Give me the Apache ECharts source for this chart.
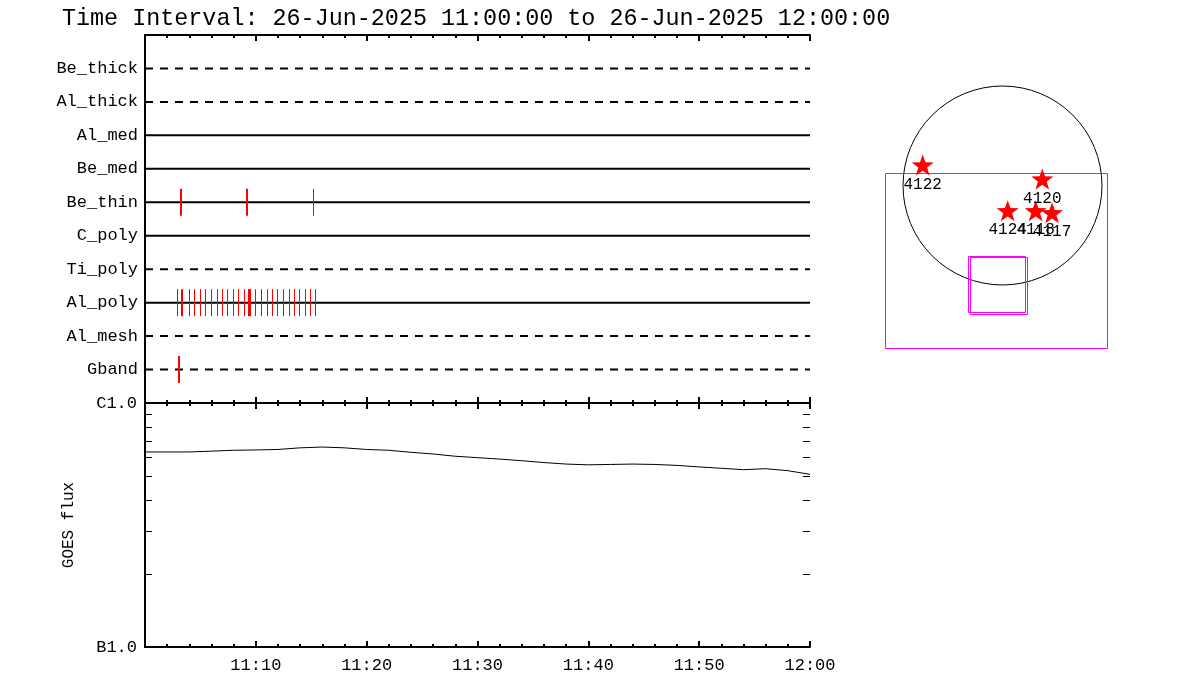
<!DOCTYPE html>
<html><head><meta charset="utf-8">
<script src="https://cdn.jsdelivr.net/npm/echarts@6/dist/echarts.min.js"></script>
<style>html,body{margin:0;padding:0;background:#fff}#c{width:1200px;height:700px}</style>
</head><body><div id="c"></div>
<script>
// ---------- data ----------
const titleText = 'Time Interval: 26-Jun-2025 11:00:00 to 26-Jun-2025 12:00:00';
const startTime = '11:00:00';
const rowNames = ['Be_thick','Al_thick','Al_med','Be_med','Be_thin','C_poly','Ti_poly','Al_poly','Al_mesh','Gband'];
const rowDashed = [true, true, false, false, false, false, true, false, true, true];
const xTickLabels = ['11:10','11:20','11:30','11:40','11:50','12:00'];

const beThinTimes = ['11:03:13','11:09:11','11:15:10'];
const beThinWidths = [2, 2, 1];
const alPolyTimes = ['11:02:55','11:03:23','11:04:00','11:04:27','11:04:58','11:05:26','11:05:58','11:06:28',
  '11:06:57','11:07:26','11:07:56','11:08:25','11:08:55','11:09:25','11:09:57','11:10:28','11:10:59','11:11:28',
  '11:11:56','11:12:27','11:12:58','11:13:26','11:13:55','11:14:26','11:14:55','11:15:22'];
const alPolyWidths = [1,2,1,1,1,1,1,1,1,1,1,1,1,3,1,1,1,1,1,1,1,1,1,1,1,1];
const gbandTimes = ['11:03:04'];
const gbandWidths = [2];

const goesTimes = ['11:00','11:04','11:08','11:10','11:12','11:14','11:16','11:18','11:20','11:22','11:24','11:26',
  '11:28','11:30','11:32','11:34','11:36','11:38','11:40','11:42','11:44','11:46','11:48','11:50','11:52','11:54',
  '11:56','11:58','12:00'];
const goesFlux = [6.30e-7,6.30e-7,6.40e-7,6.42e-7,6.45e-7,6.55e-7,6.60e-7,6.55e-7,6.45e-7,6.40e-7,6.28e-7,6.18e-7,
  6.05e-7,5.97e-7,5.89e-7,5.80e-7,5.70e-7,5.62e-7,5.58e-7,5.60e-7,5.62e-7,5.60e-7,5.55e-7,5.47e-7,5.40e-7,5.33e-7,
  5.38e-7,5.28e-7,5.10e-7];
const fluxTickValues = [2e-7,3e-7,4e-7,5e-7,6e-7,7e-7,8e-7,9e-7];
const fluxClassLabels = ['B1.0','C1.0'];

const arNumbers = ['4122','4120','4124','4118','4117'];
const arX = [-770, 384, 50, 320, 478];
const arY = [198, 63, -243, -243, -262];
const solarRadius = 960;
const fovBoxes = [[-1134, 121, 1008, -1568]];
const pointBoxes = [[-333, -680, 217, -1221], [-314, -690, 236, -1240]];

// ---------- helpers ----------
function toMin(s) {
  const p = s.split(':').map(Number);
  const b = startTime.split(':').map(Number);
  return (p[0]*60 + p[1] + (p[2]||0)/60) - (b[0]*60 + b[1] + (b[2]||0)/60);
}
const FONT = 'Liberation Mono';
const rowY = i => rowNames.length - i;

const rowSeries = rowNames.map((n, i) => ({
  type: 'line', xAxisIndex: 0, yAxisIndex: 0, symbol: 'none', silent: true, z: 2,
  data: [[0, rowY(i)], [60, rowY(i)]],
  lineStyle: { color: '#000', width: 2, type: rowDashed[i] ? [8, 7] : 'solid' }
}));

function eventData(times, widths, rowName) {
  const y = rowY(rowNames.indexOf(rowName));
  return times.map((t, k) => [toMin(t), y, widths[k]]);
}
const eventsAll = [].concat(
  eventData(beThinTimes, beThinWidths, 'Be_thin'),
  eventData(alPolyTimes, alPolyWidths, 'Al_poly'),
  eventData(gbandTimes, gbandWidths, 'Gband'));

function renderTick(params, api) {
  const p = api.coord([api.value(0), api.value(1)]);
  const w = api.value(2);
  const x = (w % 2 === 1) ? Math.round(p[0]) + 0.5 : Math.round(p[0]);
  return { type: 'line', shape: { x1: x, y1: p[1] - 13.5, x2: x, y2: p[1] + 13.5 },
    style: { stroke: '#ff0000', lineWidth: w } };
}

// minor flux ticks on both vertical edges of the GOES panel
function renderFluxTick(params, api) {
  const a = api.coord([0, api.value(0)]);
  const b = api.coord([60, api.value(0)]);
  const y = Math.round(a[1]) + 0.5;
  return { type: 'group', children: [
    { type: 'line', shape: { x1: a[0], y1: y, x2: a[0] + 7, y2: y }, style: { stroke: '#000', lineWidth: 1 } },
    { type: 'line', shape: { x1: b[0] - 7, y1: y, x2: b[0], y2: y }, style: { stroke: '#000', lineWidth: 1 } }
  ] };
}

const timeAxisBase = (gridIndex, position, showLabel) => ({
  type: 'value', gridIndex, position, min: 0, max: 60, interval: 10,
  axisLine: { show: true, onZero: false, lineStyle: { color: '#000', width: 2 } },
  axisTick: { show: true, inside: true, length: 6, lineStyle: { color: '#000', width: 2 } },
  minorTick: { show: true, splitNumber: 5, length: 3, lineStyle: { color: '#000', width: 2 } },
  splitLine: { show: false }, minorSplitLine: { show: false },
  axisLabel: { show: showLabel, color: '#000', fontFamily: FONT, fontSize: 17, margin: 10,
    formatter: v => v === 0 ? '' : (xTickLabels[Math.round(v / 10) - 1] || '') }
});

const S = 9.65; // arcsec per pixel on the sun panel

const option = {
  animation: false,
  backgroundColor: '#fff',
  title: { text: titleText, left: 57, top: 2,
    textStyle: { fontFamily: FONT, fontSize: 23.4, fontWeight: 'normal', color: '#000' } },
  grid: [
    { left: 145, top: 35, width: 665, height: 368 },
    { left: 145, top: 403, width: 665, height: 244 },
    { left: 852.5, top: 5.5, width: 300, height: 360 }
  ],
  xAxis: [
    timeAxisBase(0, 'bottom', false),
    timeAxisBase(0, 'top', false),
    timeAxisBase(1, 'top', false),
    timeAxisBase(1, 'bottom', true),
    { type: 'value', gridIndex: 2, min: -150 * S, max: 150 * S, show: false }
  ],
  yAxis: [
    { type: 'value', gridIndex: 0, position: 'left', min: 0, max: 11, interval: 1,
      axisLine: { show: true, lineStyle: { color: '#000', width: 2 } },
      axisTick: { show: false }, splitLine: { show: false },
      axisLabel: { color: '#000', fontFamily: FONT, fontSize: 17, margin: 7,
        formatter: v => (v >= 1 && v <= rowNames.length) ? rowNames[rowNames.length - v] : '' } },
    { type: 'value', gridIndex: 0, position: 'right', min: 0, max: 11, interval: 1,
      axisLine: { show: true, lineStyle: { color: '#000', width: 2 } },
      axisTick: { show: false }, splitLine: { show: false }, axisLabel: { show: false } },
    { type: 'log', logBase: 10, gridIndex: 1, position: 'left', min: 1e-7, max: 1e-6,
      name: 'GOES flux', nameLocation: 'middle', nameGap: 68,
      nameTextStyle: { fontFamily: FONT, fontSize: 16, color: '#000' },
      axisLine: { show: true, lineStyle: { color: '#000', width: 2 } },
      axisTick: { show: false },
      splitLine: { show: false },
      axisLabel: { color: '#000', fontFamily: FONT, fontSize: 17, margin: 8,
        formatter: v => v < 5e-7 ? fluxClassLabels[0] : fluxClassLabels[1] } },
    { type: 'log', logBase: 10, gridIndex: 1, position: 'right', min: 1e-7, max: 1e-6,
      axisLine: { show: true, lineStyle: { color: '#000', width: 2 } },
      axisTick: { show: false }, splitLine: { show: false }, axisLabel: { show: false } },
    { type: 'value', gridIndex: 2, min: -180 * S, max: 180 * S, show: false }
  ],
  series: [].concat(rowSeries, [
    { type: 'custom', xAxisIndex: 0, yAxisIndex: 0, z: 5, silent: true, clip: false,
      renderItem: renderTick, data: eventsAll },
    { type: 'custom', xAxisIndex: 3, yAxisIndex: 2, z: 5, silent: true, clip: false,
      renderItem: renderFluxTick, data: fluxTickValues.map(v => [v]) },
    { type: 'line', xAxisIndex: 3, yAxisIndex: 2, symbol: 'none', silent: true,
      lineStyle: { color: '#000', width: 1 },
      data: goesTimes.map((t, k) => [toMin(t), goesFlux[k]]) },
    { type: 'custom', xAxisIndex: 4, yAxisIndex: 4, silent: true, clip: false,
      renderItem: (p, api) => {
        const c = api.coord([api.value(0), api.value(1)]);
        const r = api.size([api.value(2), 0])[0];
        return { type: 'circle', shape: { cx: c[0], cy: c[1], r }, style: { fill: 'none', stroke: '#000', lineWidth: 1 } };
      },
      data: [[0, 0, solarRadius]] },
    { type: 'custom', xAxisIndex: 4, yAxisIndex: 4, silent: true, clip: false,
      renderItem: (p, api) => {
        const a = api.coord([api.value(0), api.value(1)]);
        const b = api.coord([api.value(2), api.value(3)]);
        const x = Math.round(Math.min(a[0], b[0])) + 0.5, y = Math.round(Math.min(a[1], b[1])) + 0.5;
        return { type: 'rect', shape: { x, y, width: Math.round(Math.abs(a[0] - b[0])), height: Math.round(Math.abs(a[1] - b[1])) },
          style: { fill: 'none', stroke: '#ff00ff', lineWidth: 1 } };
      },
      data: fovBoxes.concat(pointBoxes) },
    { type: 'scatter', xAxisIndex: 4, yAxisIndex: 4, silent: true, z: 6,
      symbol: 'path://M0,-10 L2.35,-3.24 L9.51,-3.09 L3.8,1.24 L5.88,8.09 L0,4 L-5.88,8.09 L-3.8,1.24 L-9.51,-3.09 L-2.35,-3.24 Z',
      symbolSize: [22, 21], itemStyle: { color: '#ff0000', opacity: 1 },
      label: { show: true, position: 'bottom', distance: 1, color: '#000', fontFamily: FONT, fontSize: 16,
        formatter: p => p.name },
      data: arNumbers.map((n, k) => ({ name: n, value: [arX[k], arY[k]] })) }
  ])
};

const chart = echarts.init(document.getElementById('c'), null, { renderer: 'canvas' });
chart.setOption(option);
</script>
</body></html>
